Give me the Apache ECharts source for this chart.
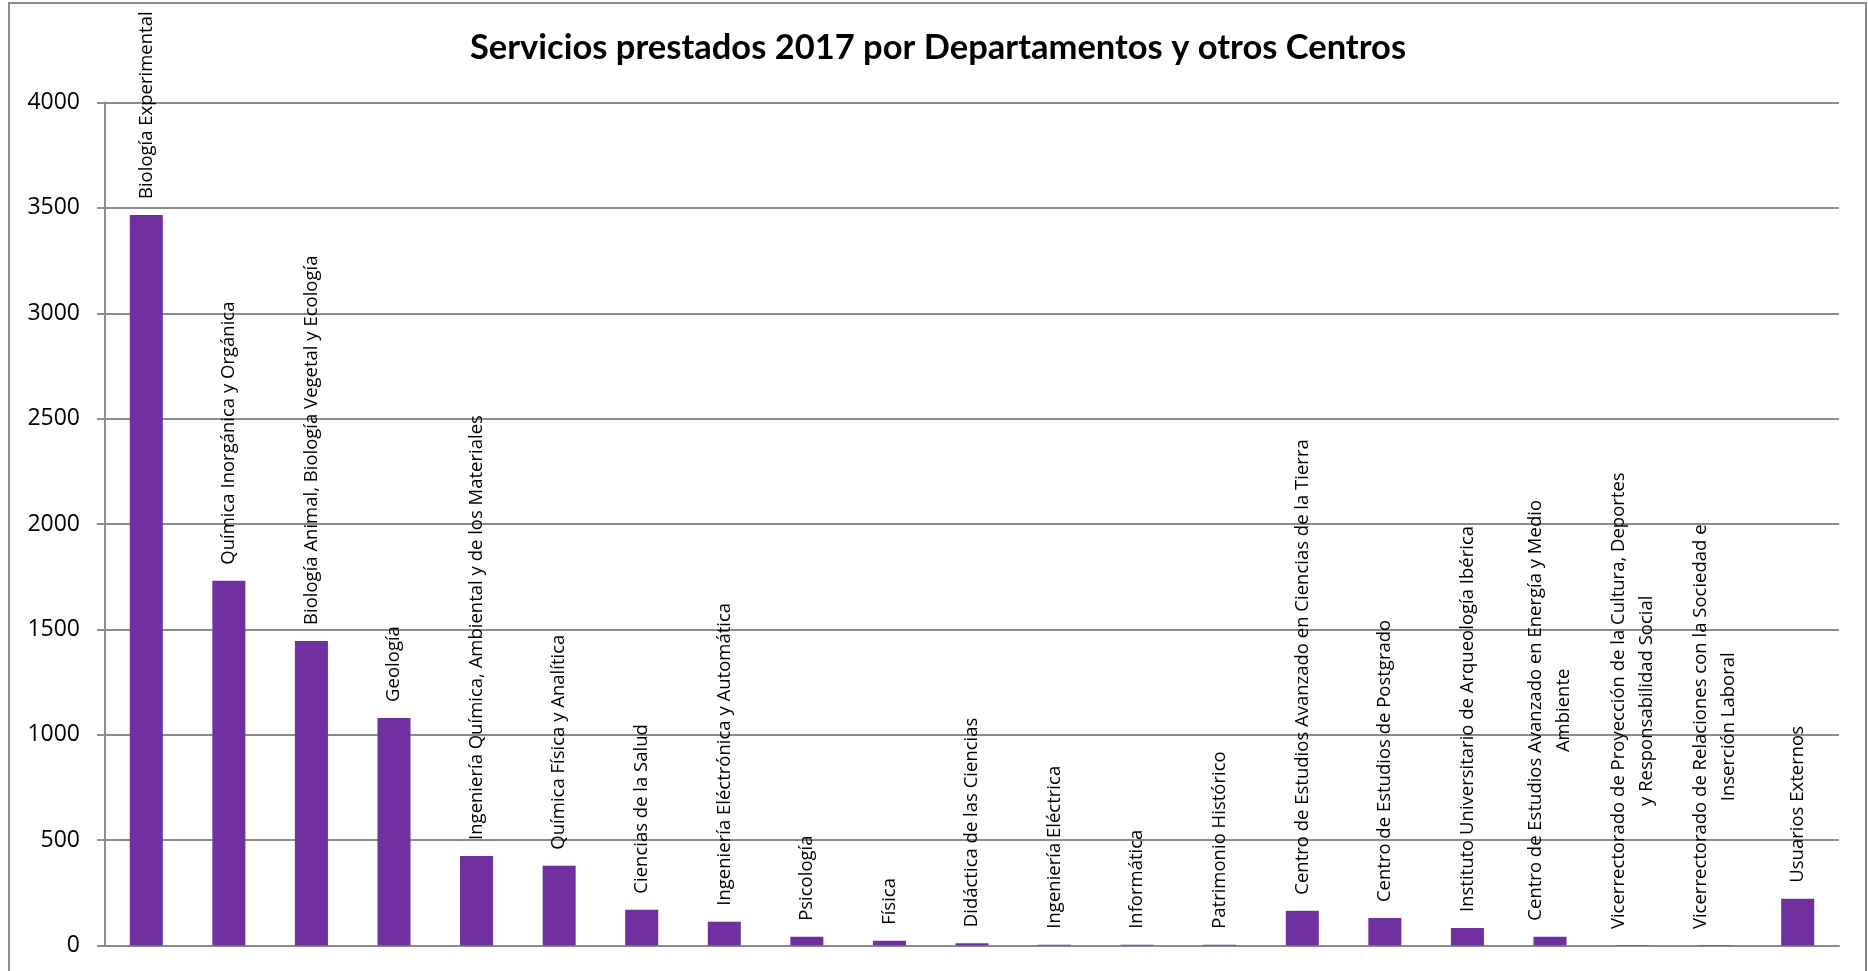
<!DOCTYPE html>
<html>
<head>
<meta charset="utf-8">
<style>
  html, body { margin: 0; padding: 0; background: #ffffff; }
  #chart { width: 1868px; height: 971px; }
</style>
<script src="https://cdn.jsdelivr.net/npm/echarts@6/dist/echarts.min.js"></script>
</head>
<body>
<div id="chart"></div>
<script>
// Servicios prestados en 2017, por departamento o centro solicitante
const titleText = 'Servicios prestados 2017 por Departamentos y otros Centros';

const centros = [
  'Biología Experimental',
  'Química Inorgánica y Orgánica',
  'Biología Animal, Biología Vegetal y Ecología',
  'Geología',
  'Ingeniería Química, Ambiental y de los Materiales',
  'Química Física y Analítica',
  'Ciencias de la Salud',
  'Ingeniería Eléctrónica y Automática',
  'Psicología',
  'Física',
  'Didáctica de las Ciencias',
  'Ingeniería Eléctrica',
  'Informática',
  'Patrimonio Histórico',
  'Centro de Estudios Avanzado en Ciencias de la Tierra',
  'Centro de Estudios de Postgrado',
  'Instituto Universitario de Arqueología Ibérica',
  'Centro de Estudios Avanzado en Energía y Medio\nAmbiente',
  'Vicerrectorado de Proyección de la Cultura, Deportes\ny Responsabilidad Social',
  'Vicerrectorado de Relaciones con la Sociedad e\nInserción Laboral',
  'Usuarios Externos'
];

const servicios = [3466, 1731, 1445, 1080, 425, 379, 170, 113, 41, 22, 11, 4, 3, 3, 165, 130, 83, 42, 2, 2, 222];

const yTicks = { min: 0, max: 4000, interval: 500 };

const gridColor = '#8c8c8c';
const barColor = '#7030a0';

const chart = echarts.init(document.getElementById('chart'), null, { renderer: 'canvas' });

chart.setOption({
  backgroundColor: '#ffffff',
  animation: false,
  title: {
    text: titleText,
    left: 933,
    textAlign: 'center',
    top: 25,
    textStyle: {
      fontFamily: 'Lato',
      fontWeight: 'bold',
      fontSize: 34.5,
      color: '#000000'
    }
  },
  graphic: [{
    type: 'rect',
    silent: true,
    z: -1,
    shape: { x: 9, y: 3, width: 1857, height: 1000 },
    style: { fill: 'none', stroke: gridColor, lineWidth: 2 }
  }],
  grid: {
    left: 105,
    right: 29,
    top: 102.5,
    bottom: 25.5,
    outerBoundsMode: 'none'
  },
  xAxis: {
    type: 'category',
    data: centros,
    boundaryGap: true,
    axisLine: { show: true, lineStyle: { color: gridColor, width: 2 } },
    axisTick: { show: false },
    axisLabel: { show: false },
    splitLine: { show: false }
  },
  yAxis: {
    type: 'value',
    min: yTicks.min,
    max: yTicks.max,
    interval: yTicks.interval,
    axisLine: { show: true, lineStyle: { color: gridColor, width: 2 } },
    axisTick: { show: true, length: 8, inside: false, lineStyle: { color: gridColor, width: 2 } },
    axisLabel: {
      margin: 25,
      fontFamily: 'Open Sans',
      fontSize: 23,
      color: '#000000',
      formatter: function (v) { return String(v); }
    },
    splitLine: { show: true, lineStyle: { color: gridColor, width: 2 } }
  },
  series: [{
    type: 'bar',
    data: servicios,
    barWidth: '40%',
    itemStyle: { color: barColor },
    label: {
      show: true,
      position: 'top',
      distance: 16,
      rotate: 90,
      align: 'left',
      verticalAlign: 'middle',
      formatter: function (p) {
        return p.name.split('\n').map(function (line) { return '{c|' + line + '}'; }).join('\n');
      },
      rich: {
        c: {
          align: 'center',
          fontFamily: 'Open Sans',
          fontSize: 18.5,
          lineHeight: 28,
          color: '#000000'
        }
      }
    }
  }]
});
</script>
</body>
</html>
